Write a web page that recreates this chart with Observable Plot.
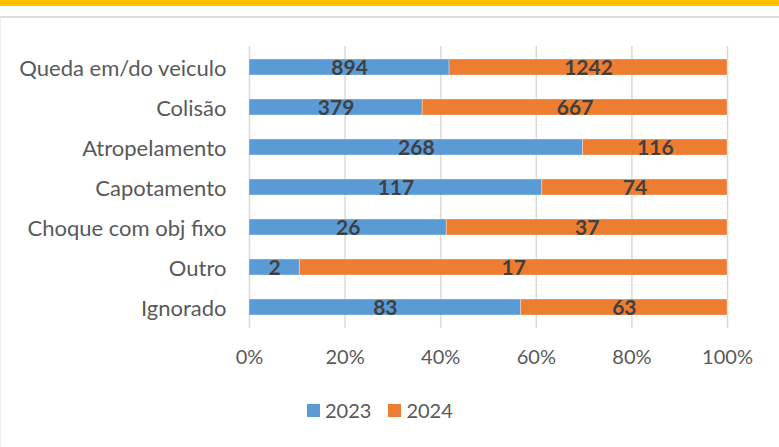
<!DOCTYPE html>
<html>
<head>
<meta charset="utf-8">
<script src="https://cdn.jsdelivr.net/npm/d3@7"></script>
<script src="https://cdn.jsdelivr.net/npm/@observablehq/plot@0.6"></script>
<style>
  html, body { margin: 0; padding: 0; background: #fff; }
  #wrap { position: relative; width: 779px; height: 447px; overflow: hidden; background: #fff; font-family: Lato, sans-serif; }
  #topband { position: absolute; left: 0; top: 0; width: 779px; height: 6px; background: #FFC000; }
  #frame { position: absolute; left: 0; top: 16px; width: 779px; height: 440px; border-top: 2px solid #dcdcdc; border-left: 1px solid #eeeeee; box-sizing: border-box; }
  #chart { position: absolute; left: 0; top: 19px; }
  #legend { position: absolute; left: 307px; top: 398px; display: flex; align-items: center; font-size: 20px; color: #595959; }
  .sw { width: 13px; height: 13px; display: inline-block; margin-right: 5px; }
  .item { display: flex; align-items: center; margin-right: 17px; }
</style>
</head>
<body>
<div id="wrap">
  <div id="topband"></div>
  <div id="frame"></div>
  <div id="chart"></div>
  <div id="legend"></div>
</div>
<script>
const categories = ["Queda em/do veiculo", "Colisão", "Atropelamento", "Capotamento", "Choque com obj fixo", "Outro", "Ignorado"];
const years = ["2023", "2024"];
const values2023 = [894, 379, 268, 117, 26, 2, 83];
const values2024 = [1242, 667, 116, 74, 37, 17, 63];
const xTicks = [0, 0.2, 0.4, 0.6, 0.8, 1];
const colors = ["#5B9BD5", "#ED7D31"];

const data = [];
categories.forEach((c, i) => {
  data.push({cat: c, year: years[0], value: values2023[i]});
  data.push({cat: c, year: years[1], value: values2024[i]});
});

const chart = Plot.plot({
  width: 779,
  height: 360,
  marginTop: 27,
  marginBottom: 51,
  marginLeft: 249,
  marginRight: 52,
  style: {fontFamily: "Lato, sans-serif", background: "transparent"},
  x: {domain: [0, 1], ticks: xTicks, tickFormat: d3.format(".0%"), label: null},
  y: {domain: categories, paddingInner: 0.6, paddingOuter: 0.3, label: null},
  color: {domain: years, range: colors},
  marks: [
    Plot.gridX(xTicks, {stroke: "#d9d9d9", strokeOpacity: 1, strokeWidth: 1.5}),
    Plot.barX(data, Plot.stackX({x: "value", y: "cat", fill: "year", offset: "normalize", order: years, stroke: "#ffffff", strokeOpacity: 0.4, strokeWidth: 0.8})),
    Plot.textX(data, Plot.stackX({x: "value", y: "cat", z: "year", offset: "normalize", order: years, text: d => String(d.value), fill: "#404040", fontWeight: "bold", fontSize: 21, dy: 1})),
    Plot.axisX(xTicks, {tickSize: 0, tickPadding: 21, fontSize: 20, fill: "#595959", tickFormat: d3.format(".0%"), label: null}),
    Plot.axisY({tickSize: 0, tickPadding: 23, fontSize: 22, fill: "#595959", label: null, dy: 1})
  ]
});
document.getElementById("chart").appendChild(chart);

const legend = document.getElementById("legend");
years.forEach((y, i) => {
  const item = document.createElement("div");
  item.className = "item";
  const sw = document.createElement("span");
  sw.className = "sw";
  sw.style.background = colors[i];
  const t = document.createElement("span");
  t.textContent = y;
  item.appendChild(sw);
  item.appendChild(t);
  legend.appendChild(item);
});
</script>
</body>
</html>
